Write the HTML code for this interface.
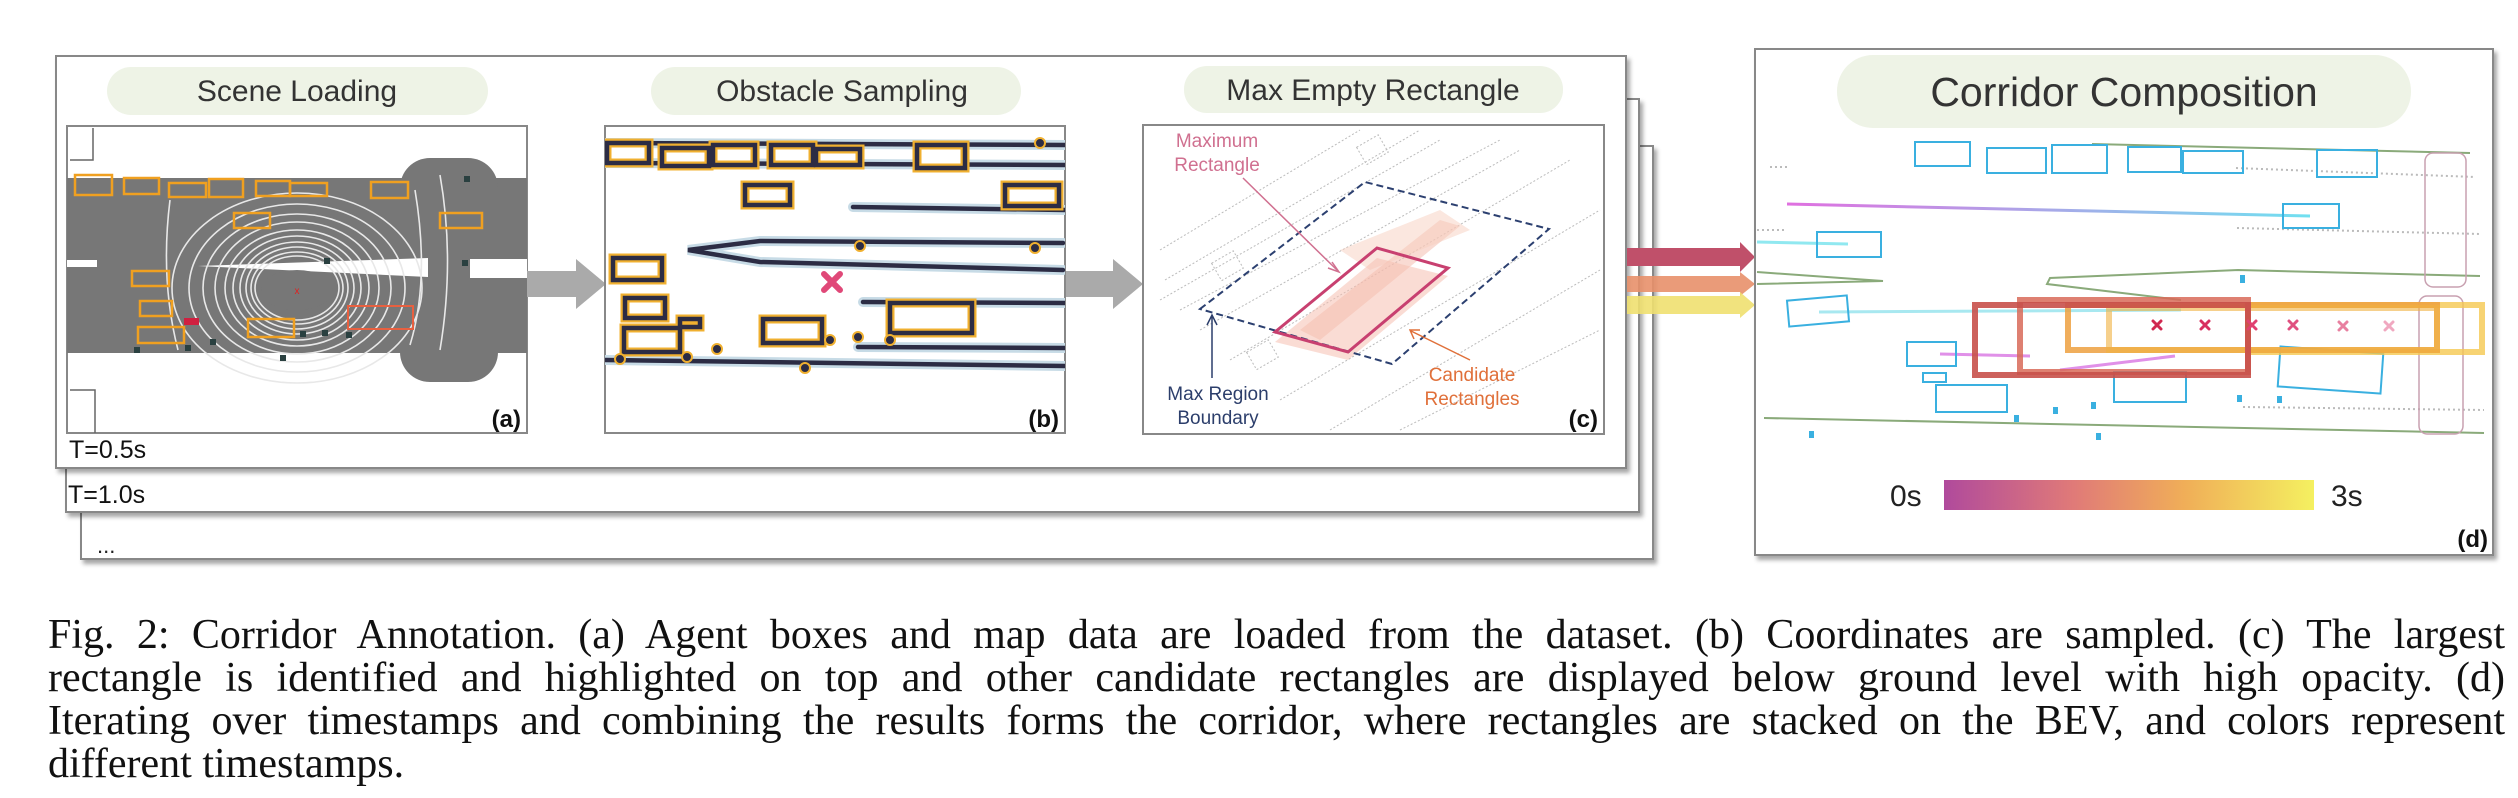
<!DOCTYPE html>
<html><head><meta charset="utf-8"><style>
html,body{margin:0;padding:0;background:#fff;width:2518px;height:798px;overflow:hidden;}
svg{position:absolute;left:0;top:0;}
.cap{position:absolute;left:48px;width:2457px;font-family:"Liberation Serif",serif;font-size:42px;color:#111;line-height:43px;white-space:nowrap;}
.j{text-align:justify;text-align-last:justify;white-space:normal;}
</style></head><body>
<svg width="2518" height="580" viewBox="0 0 2518 580" xmlns="http://www.w3.org/2000/svg" font-family="Liberation Sans, sans-serif">
<defs>
<filter id="sh" x="-5%" y="-5%" width="110%" height="115%"><feDropShadow dx="3" dy="4" stdDeviation="2" flood-color="#000" flood-opacity="0.35"/></filter>
<linearGradient id="cb" x1="0" x2="1"><stop offset="0" stop-color="#b04a9c"/><stop offset="0.35" stop-color="#e07a78"/><stop offset="0.65" stop-color="#f0ae58"/><stop offset="1" stop-color="#f4f060"/></linearGradient>
<linearGradient id="pc" x1="0" x2="1"><stop offset="0" stop-color="#e070e0"/><stop offset="1" stop-color="#70e0f0"/></linearGradient>
<clipPath id="ca"><rect x="67" y="126" width="460" height="307"/></clipPath>
<clipPath id="cbp"><rect x="605" y="126" width="460" height="307"/></clipPath>
</defs>
<rect x="81" y="146" width="1572" height="413" fill="#fff" stroke="#888" stroke-width="2" filter="url(#sh)"/>
<rect x="66" y="99" width="1573" height="413" fill="#fff" stroke="#888" stroke-width="2" filter="url(#sh)"/>
<rect x="56" y="56" width="1570" height="412" fill="#fff" stroke="#888" stroke-width="2" filter="url(#sh)"/>
<text x="97" y="553" font-size="22" fill="#222">...</text>
<text x="68" y="503" font-size="25" fill="#111">T=1.0s</text>
<text x="69" y="458" font-size="25" fill="#111">T=0.5s</text>
<rect x="107" y="67" width="381" height="48" rx="24" fill="#eef3e6"/>
<text x="297" y="101" font-size="30" fill="#333" text-anchor="middle">Scene Loading</text>
<rect x="651" y="67" width="370" height="48" rx="24" fill="#eef3e6"/>
<text x="842" y="101" font-size="30" fill="#333" text-anchor="middle">Obstacle Sampling</text>
<rect x="1184" y="66" width="379" height="47" rx="23" fill="#eef3e6"/>
<text x="1373" y="100" font-size="30" fill="#333" text-anchor="middle">Max Empty Rectangle</text>

<rect x="67" y="126" width="460" height="307" fill="#fff" stroke="#888" stroke-width="2"/>
<g clip-path="url(#ca)">
<rect x="67" y="178" width="460" height="175" fill="#777"/>
<rect x="400" y="158" width="98" height="224" rx="30" fill="#777"/>
<rect x="67" y="260" width="30" height="7" fill="#fff"/>
<polygon points="198,266 428,258 428,277" fill="#fff"/>
<rect x="470" y="259" width="57" height="19" fill="#fff"/>
<g fill="none" stroke="#e8e8e8" stroke-width="1.6">
<ellipse cx="297" cy="288" rx="125" ry="95"/><ellipse cx="297" cy="288" rx="108" ry="84"/><ellipse cx="297" cy="288" rx="94" ry="74"/><ellipse cx="297" cy="288" rx="82" ry="66"/><ellipse cx="297" cy="288" rx="72" ry="58"/><ellipse cx="297" cy="288" rx="64" ry="52"/><ellipse cx="297" cy="288" rx="57" ry="46"/><ellipse cx="297" cy="288" rx="51" ry="41"/><ellipse cx="297" cy="288" rx="46" ry="36"/><ellipse cx="297" cy="288" rx="42" ry="32"/>
<path d="M170 200 Q160 280 178 350"/><path d="M415 190 Q430 280 410 345"/><path d="M440 175 Q455 260 440 350"/>
</g>
<ellipse cx="297" cy="290" rx="36" ry="20" fill="#777"/>
<path d="M70 390 L95 390 L95 433 M70 160 L93 160 L93 128" stroke="#666" fill="none" stroke-width="1.5"/>
<g fill="none" stroke="#f0a020" stroke-width="2.5">
<rect x="75" y="175" width="37" height="20"/><rect x="124" y="178" width="35" height="16"/><rect x="169" y="183" width="37" height="14"/><rect x="209" y="179" width="34" height="18"/><rect x="256" y="181" width="34" height="15"/><rect x="290" y="183" width="37" height="13"/><rect x="371" y="182" width="37" height="16"/><rect x="234" y="213" width="36" height="15"/><rect x="440" y="213" width="42" height="15"/><rect x="132" y="271" width="37" height="15"/><rect x="140" y="301" width="32" height="15"/><rect x="138" y="327" width="46" height="16"/><rect x="248" y="319" width="46" height="18"/>
</g>
<rect x="348" y="306" width="65" height="23" fill="none" stroke="#e86040" stroke-width="2"/>
<rect x="184" y="318" width="15" height="7" fill="#d02040"/>
<text x="297" y="294" font-size="10" fill="#e02020" text-anchor="middle">x</text>
<g fill="#2a4040"><rect x="324" y="258" width="6" height="6"/><rect x="464" y="176" width="6" height="6"/><rect x="462" y="260" width="6" height="6"/><rect x="210" y="339" width="6" height="6"/><rect x="134" y="347" width="6" height="6"/><rect x="185" y="345" width="6" height="6"/><rect x="280" y="355" width="6" height="6"/><rect x="300" y="331" width="6" height="6"/><rect x="322" y="330" width="6" height="6"/><rect x="346" y="332" width="6" height="6"/></g>
</g>
<text x="521" y="427" font-size="24" font-weight="bold" fill="#111" text-anchor="end">(a)</text>

<polygon points="527,271 576,271 576,259 606,284 576,309 576,297 527,297" fill="#aaa"/>

<rect x="605" y="126" width="460" height="307" fill="#fff" stroke="#888" stroke-width="2"/>
<g clip-path="url(#cbp)">
<g fill="none" stroke="#c7dbe6" stroke-width="10" stroke-linecap="round">
<path d="M605 143 L1065 145"/><path d="M605 163 L1065 165"/><path d="M853 207 L1065 210"/><path d="M1063 243 L760 241 L688 250 L760 262 L1063 270"/><path d="M863 302 L1065 303"/><path d="M858 347 L1065 348"/><path d="M605 360 L1065 366"/>
</g>
<g fill="none" stroke="#2c2c44" stroke-width="4.5" stroke-linecap="round">
<path d="M605 143 L1065 145"/><path d="M605 163 L1065 165"/><path d="M853 207 L1065 210"/><path d="M1063 243 L760 241 L688 250 L760 262 L1063 270"/><path d="M863 302 L1065 303"/><path d="M858 347 L1065 348"/><path d="M605 360 L1065 366"/>
</g>
<g fill="#fff" stroke="#f0b030" stroke-width="9">
<rect x="607" y="143" width="42" height="20"/><rect x="662" y="148" width="47" height="18"/><rect x="713" y="145" width="42" height="20"/><rect x="771" y="145" width="42" height="20"/><rect x="816" y="149" width="44" height="16"/><rect x="917" y="145" width="48" height="23"/><rect x="745" y="185" width="45" height="20"/><rect x="1005" y="185" width="54" height="21"/><rect x="613" y="258" width="49" height="22"/><rect x="625" y="298" width="40" height="20"/><rect x="624" y="328" width="56" height="24"/><rect x="680" y="319" width="20" height="8"/><rect x="763" y="319" width="59" height="24"/><rect x="890" y="303" width="82" height="30"/>
</g>
<g fill="none" stroke="#2c2c44" stroke-width="4.5">
<rect x="607" y="143" width="42" height="20"/><rect x="662" y="148" width="47" height="18"/><rect x="713" y="145" width="42" height="20"/><rect x="771" y="145" width="42" height="20"/><rect x="816" y="149" width="44" height="16"/><rect x="917" y="145" width="48" height="23"/><rect x="745" y="185" width="45" height="20"/><rect x="1005" y="185" width="54" height="21"/><rect x="613" y="258" width="49" height="22"/><rect x="625" y="298" width="40" height="20"/><rect x="624" y="328" width="56" height="24"/><rect x="680" y="319" width="20" height="8"/><rect x="763" y="319" width="59" height="24"/><rect x="890" y="303" width="82" height="30"/>
</g>
<g fill="#2c2c44" stroke="#f0b030" stroke-width="2"><circle cx="717" cy="349" r="5"/><circle cx="830" cy="340" r="5"/><circle cx="858" cy="337" r="5"/><circle cx="890" cy="340" r="5"/><circle cx="805" cy="368" r="5"/><circle cx="687" cy="357" r="5"/><circle cx="620" cy="359" r="5"/><circle cx="860" cy="246" r="5"/><circle cx="1035" cy="248" r="5"/><circle cx="1040" cy="143" r="5"/></g>
<path d="M824 274 L840 290 M840 274 L824 290" stroke="#e04878" stroke-width="6" stroke-linecap="round"/>
</g>
<text x="1059" y="427" font-size="24" font-weight="bold" fill="#111" text-anchor="end">(b)</text>

<polygon points="1066,271 1113,271 1113,259 1143,284 1113,309 1113,297 1066,297" fill="#aaa"/>

<rect x="1143" y="125" width="461" height="309" fill="#fff" stroke="#888" stroke-width="2"/>
<g stroke="#bbb" stroke-width="1" stroke-dasharray="2 2" fill="none">
<path d="M1160 250 L1360 130"/><path d="M1165 280 L1420 130"/><path d="M1180 310 L1500 140"/><path d="M1230 360 L1570 160"/><path d="M1280 400 L1600 210"/><path d="M1330 430 L1600 270"/><path d="M1400 430 L1600 330"/><path d="M1160 300 L1440 140"/><path d="M1200 330 L1520 150"/>
<rect x="1215" y="256" width="25" height="20" transform="rotate(-30 1227 266)"/><rect x="1250" y="345" width="25" height="20" transform="rotate(-30 1262 355)"/><rect x="1360" y="140" width="25" height="20" transform="rotate(-30 1372 150)"/>
</g>
<polygon points="1300,330 1440,220 1460,226 1320,340" fill="#f3b8a8" opacity="0.5"/>
<polygon points="1340,250 1440,210 1470,230 1370,270" fill="#f8d0c0" opacity="0.5"/>
<polygon points="1275,342 1377,258 1448,276 1348,360" fill="#f5c0b0" opacity="0.55"/>
<polygon points="1200,309 1365,182 1549,229 1392,364" fill="none" stroke="#2c4070" stroke-width="2" stroke-dasharray="7 4"/>
<polygon points="1275,332 1377,248 1448,268 1348,352" fill="none" stroke="#c84070" stroke-width="3"/>
<text font-size="19" fill="#d07090" text-anchor="middle"><tspan x="1217" y="147">Maximum</tspan><tspan x="1217" y="171">Rectangle</tspan></text>
<path d="M1243 178 L1338 271" stroke="#d07090" stroke-width="1.5"/><path d="M1332 262 L1339 272 L1328 268" stroke="#d07090" fill="none" stroke-width="1.5"/>
<text font-size="19" fill="#2c3e6b" text-anchor="middle"><tspan x="1218" y="400">Max Region</tspan><tspan x="1218" y="424">Boundary</tspan></text>
<path d="M1212 378 L1212 316 M1207 325 L1212 315 L1217 325" stroke="#2c3e6b" stroke-width="1.5" fill="none"/>
<text font-size="19" fill="#e0703a" text-anchor="middle"><tspan x="1472" y="381">Candidate</tspan><tspan x="1472" y="405">Rectangles</tspan></text>
<path d="M1470 360 L1411 331 M1414 339 L1410 330 L1420 330" stroke="#e0703a" stroke-width="1.5" fill="none"/>
<text x="1598" y="427" font-size="24" font-weight="bold" fill="#111" text-anchor="end">(c)</text>

<polygon points="1627,276 1740,276 1740,272 1755,284 1740,296 1740,292 1627,292" fill="#e8906a" opacity="0.9"/>
<polygon points="1627,296 1740,296 1740,292 1755,305 1740,318 1740,314 1627,314" fill="#f0e070" opacity="0.9"/>
<polygon points="1627,248 1740,248 1740,242 1755,257 1740,272 1740,266 1627,266" fill="#c0506a"/>

<rect x="1755" y="49" width="738" height="506" fill="#fff" stroke="#888" stroke-width="2" filter="url(#sh)"/>
<rect x="1837" y="55" width="574" height="73" rx="36" fill="#eef3e6"/>
<text x="2124" y="106" font-size="41" fill="#333" text-anchor="middle">Corridor Composition</text>
<g fill="none" stroke="#bbb" stroke-width="2" stroke-dasharray="2 3">
<path d="M2236 168 L2475 177"/><path d="M2237 228 L2480 234"/><path d="M2243 407 L2484 410"/><path d="M1770 167 L1790 167"/><path d="M1757 230 L1785 230"/>
</g>
<g fill="none" stroke="#8aaa7a" stroke-width="2">
<path d="M2092 144 L2470 153"/><path d="M1757 272 L1883 281 L1757 284"/><path d="M2181 300 L2047 284 L2050 278 L2238 270 L2480 276"/><path d="M1764 418 L2484 433"/>
</g>
<g fill="none" stroke="#c8a0b0" stroke-width="1.5"><rect x="2425" y="153" width="41" height="134" rx="8"/><rect x="2419" y="296" width="44" height="138" rx="8"/></g>
<path d="M1787 204 L2310 216" stroke="url(#pc)" stroke-width="3"/>
<path d="M1757 242 L1848 244" stroke="#90e8f0" stroke-width="3"/>
<path d="M1819 312 L2181 310" stroke="#a8e8f0" stroke-width="3"/>
<path d="M1940 354 L2030 356 M2060 370 L2175 356" stroke="#e090e8" stroke-width="3"/>
<g fill="none" stroke="#3ab0e0" stroke-width="2">
<rect x="1915" y="142" width="55" height="24"/><rect x="1987" y="148" width="59" height="25"/><rect x="2052" y="145" width="55" height="28"/><rect x="2128" y="147" width="53" height="25"/><rect x="2183" y="151" width="60" height="22"/><rect x="2317" y="150" width="60" height="27"/><rect x="2283" y="204" width="56" height="24"/><rect x="1817" y="232" width="64" height="25"/><rect x="1788" y="298" width="60" height="26" transform="rotate(-5 1818 311)"/><rect x="1907" y="342" width="49" height="24"/><rect x="1923" y="373" width="23" height="9"/><rect x="1936" y="385" width="71" height="27"/><rect x="2114" y="372" width="72" height="30"/><rect x="2279" y="350" width="103" height="40" transform="rotate(4 2330 370)"/>
</g>
<g fill="#3ab0e0"><rect x="2240" y="275" width="5" height="8"/><rect x="2014" y="415" width="5" height="7"/><rect x="2053" y="407" width="5" height="7"/><rect x="2091" y="402" width="5" height="7"/><rect x="2237" y="395" width="5" height="7"/><rect x="2277" y="396" width="5" height="7"/><rect x="1809" y="431" width="5" height="7"/><rect x="2096" y="433" width="5" height="7"/></g>
<g fill="none" stroke-width="6">
<rect x="2248" y="305" width="234" height="47" stroke="#f5c850" opacity="0.8"/>
<rect x="2068" y="305" width="369" height="45" stroke="#eda040" opacity="0.85"/>
<rect x="2109" y="308" width="328" height="42" stroke="#f0b040" opacity="0.6"/>
<rect x="2020" y="300" width="228" height="72" stroke="#d86a58" opacity="0.85"/>
<rect x="1975" y="305" width="273" height="70" stroke="#c8504a" opacity="0.9"/>
</g>
<g stroke-width="3" stroke-linecap="round">
<path d="M2153 321 L2161 329 M2161 321 L2153 329" stroke="#d02850"/><path d="M2201 321 L2209 329 M2209 321 L2201 329" stroke="#d83060"/><path d="M2248 321 L2256 329 M2256 321 L2248 329" stroke="#e04070"/><path d="M2289 321 L2297 329 M2297 321 L2289 329" stroke="#e05080"/><path d="M2339 322 L2347 330 M2347 322 L2339 330" stroke="#e880a0"/><path d="M2385 322 L2393 330 M2393 322 L2385 330" stroke="#f0a8c0"/>
</g>
<rect x="1944" y="480" width="370" height="30" fill="url(#cb)"/>
<text x="1890" y="506" font-size="30" fill="#222">0s</text>
<text x="2331" y="506" font-size="30" fill="#222">3s</text>
<text x="2488" y="547" font-size="24" font-weight="bold" fill="#111" text-anchor="end">(d)</text>
</svg>
<div class="cap j" style="top:614px">Fig. 2: Corridor Annotation. (a) Agent boxes and map data are loaded from the dataset. (b) Coordinates are sampled. (c) The largest</div>
<div class="cap j" style="top:657px">rectangle is identified and highlighted on top and other candidate rectangles are displayed below ground level with high opacity. (d)</div>
<div class="cap j" style="top:700px">Iterating over timestamps and combining the results forms the corridor, where rectangles are stacked on the BEV, and colors represent</div>
<div class="cap" style="top:743px">different timestamps.</div>
</body></html>
